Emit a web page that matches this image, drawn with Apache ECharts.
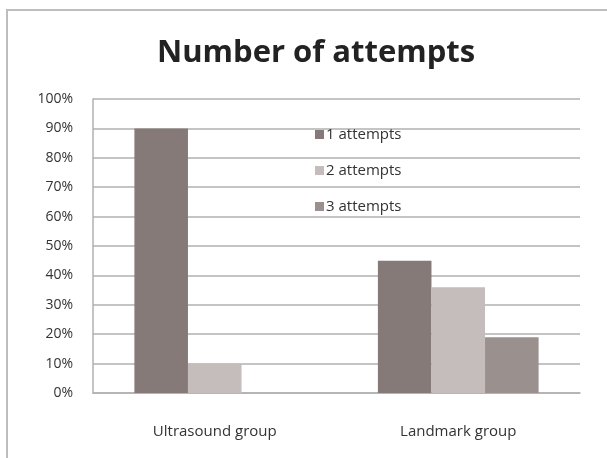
<!DOCTYPE html>
<html>
<head>
<meta charset="utf-8">
<script src="https://cdn.jsdelivr.net/npm/echarts@6/dist/echarts.min.js"></script>
<style>
  html, body { margin: 0; padding: 0; background: #fff; }
  #chart { width: 607px; height: 458px; }
</style>
</head>
<body>
<div id="chart"></div>
<script>
  // data
  var categories = ['Ultrasound group', 'Landmark group'];
  var seriesNames = ['1 attempts', '2 attempts', '3 attempts'];
  var attempts1 = [90, 45];
  var attempts2 = [10, 36];
  var attempts3 = [0, 19];
  var colors = ['#857a78', '#c4bdbb', '#9a918f'];

  var chart = echarts.init(document.getElementById('chart'));

  function makeBar(name, values, color) {
    return {
      name: name,
      type: 'bar',
      data: values,
      barGap: '0%',
      barCategoryGap: '34%',
      itemStyle: { color: color }
    };
  }

  var option = {
    backgroundColor: '#fff',
    animation: false,
    textStyle: { fontFamily: 'Open Sans' },
    graphic: [{
      type: 'rect',
      shape: { x: 7, y: 10, width: 700, height: 500 },
      style: { fill: 'none', stroke: '#bdbdbd', lineWidth: 2 },
      silent: true
    }],
    title: {
      text: 'Number of attempts',
      left: 152,
      top: 33,
      textStyle: { fontFamily: 'Open Sans', fontSize: 31, fontWeight: 'bold', color: '#222' }
    },
    legend: {
      orient: 'vertical',
      left: 310,
      top: 122,
      itemGap: 21,
      itemWidth: 9,
      itemHeight: 9,
      icon: 'rect',
      data: seriesNames,
      textStyle: { fontSize: 15, color: '#333', padding: [0, 0, 0, -3] }
    },
    grid: { left: 93, right: 27, top: 99, bottom: 65 },
    xAxis: {
      type: 'category',
      data: categories,
      axisTick: { show: false },
      axisLine: { lineStyle: { color: '#b0b0b0', width: 1.5 } },
      axisLabel: { fontSize: 15, color: '#333', margin: 31 }
    },
    yAxis: {
      type: 'value',
      min: 0,
      max: 100,
      interval: 10,
      axisLine: { show: true, lineStyle: { color: '#b0b0b0', width: 1.5 } },
      axisTick: { show: false },
      splitLine: { lineStyle: { color: '#b0b0b0', width: 1.5 } },
      axisLabel: { formatter: '{value}%', fontSize: 14, color: '#333', margin: 20 }
    },
    series: [
      makeBar(seriesNames[0], attempts1, colors[0]),
      makeBar(seriesNames[1], attempts2, colors[1]),
      makeBar(seriesNames[2], attempts3, colors[2])
    ]
  };

  chart.setOption(option);
</script>
</body>
</html>
